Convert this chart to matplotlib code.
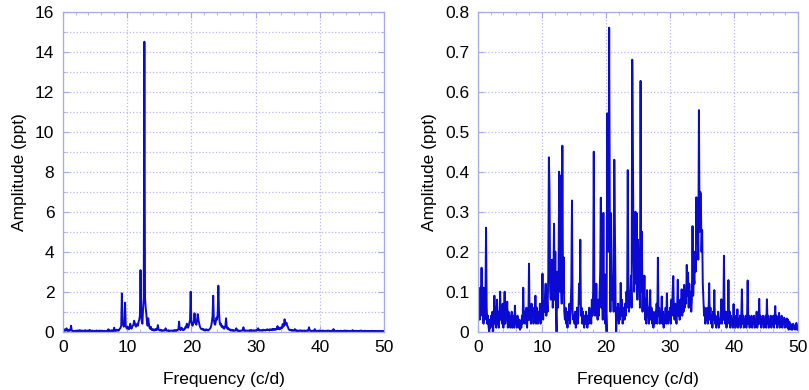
import numpy as np
import matplotlib
matplotlib.use('Agg')
from matplotlib import pyplot as plt
from matplotlib.ticker import MultipleLocator

# frequency grid of both spectra (c/d), step 0.1
freq = np.round(np.arange(0, 501) * 0.1, 1)

# left: original amplitude spectrum (ppt), one row per 1 c/d
amp_left = [
    0.10, 0.05, 0.12, 0.04, 0.10, 0.06, 0.17, 0.05, 0.08, 0.04,
    0.10, 0.05, 0.08, 0.30, 0.06, 0.03, 0.05, 0.02, 0.04, 0.03,
    0.05, 0.02, 0.04, 0.06, 0.02, 0.04, 0.08, 0.03, 0.06, 0.02,
    0.06, 0.03, 0.05, 0.02, 0.04, 0.08, 0.03, 0.05, 0.02, 0.06,
    0.02, 0.05, 0.09, 0.03, 0.05, 0.02, 0.06, 0.02, 0.04, 0.03,
    0.05, 0.02, 0.04, 0.06, 0.02, 0.03, 0.05, 0.02, 0.06, 0.03,
    0.04, 0.02, 0.05, 0.03, 0.02, 0.04, 0.02, 0.03, 0.02, 0.05,
    0.03, 0.12, 0.04, 0.06, 0.03, 0.05, 0.07, 0.02, 0.06, 0.04,
    0.20, 0.05, 0.08, 0.04, 0.10, 0.06, 0.09, 0.05, 0.12, 0.15,
    0.20, 0.30, 1.92, 0.50, 0.35, 0.25, 0.40, 1.45, 0.30, 0.20,
    0.15, 0.25, 0.18, 0.12, 0.20, 0.40, 0.22, 0.15, 0.25, 0.30,
    0.35, 0.55, 0.45, 0.30, 0.25, 0.35, 0.40, 0.30, 0.50, 0.60,
    0.80, 3.08, 0.90, 0.50, 0.40, 1.20, 1.70, 14.5, 1.70, 1.20,
    0.90, 0.50, 0.30, 0.67, 0.40, 0.20, 0.15, 0.25, 0.10, 0.12,
    0.08, 0.12, 0.10, 0.06, 0.12, 0.08, 0.15, 0.10, 0.33, 0.12,
    0.08, 0.06, 0.10, 0.05, 0.07, 0.04, 0.06, 0.05, 0.08, 0.06,
    0.17, 0.08, 0.05, 0.06, 0.04, 0.07, 0.03, 0.05, 0.04, 0.06,
    0.05, 0.03, 0.06, 0.04, 0.08, 0.05, 0.07, 0.04, 0.08, 0.10,
    0.15, 0.50, 0.12, 0.08, 0.15, 0.20, 0.10, 0.08, 0.12, 0.10,
    0.15, 0.25, 0.20, 0.40, 0.25, 0.20, 0.30, 0.45, 0.60, 2.00,
    0.50, 0.35, 0.30, 0.40, 0.60, 0.92, 0.50, 0.40, 0.35, 0.60,
    0.88, 0.60, 0.45, 0.30, 0.20, 0.15, 0.12, 0.15, 0.10, 0.12,
    0.08, 0.10, 0.06, 0.12, 0.08, 0.10, 0.06, 0.08, 0.12, 0.15,
    0.20, 0.30, 0.50, 0.80, 1.80, 0.60, 0.40, 0.35, 0.50, 0.70,
    0.60, 0.90, 2.30, 1.00, 0.50, 0.35, 0.40, 0.25, 0.30, 0.20,
    0.25, 0.15, 0.20, 0.30, 0.67, 0.25, 0.15, 0.20, 0.12, 0.10,
    0.12, 0.08, 0.06, 0.10, 0.05, 0.08, 0.04, 0.06, 0.05, 0.08,
    0.17, 0.05, 0.07, 0.04, 0.06, 0.03, 0.05, 0.04, 0.06, 0.05,
    0.08, 0.22, 0.06, 0.04, 0.07, 0.05, 0.06, 0.04, 0.05, 0.06,
    0.04, 0.07, 0.05, 0.08, 0.04, 0.06, 0.05, 0.07, 0.04, 0.06,
    0.05, 0.08, 0.06, 0.09, 0.17, 0.06, 0.08, 0.05, 0.07, 0.06,
    0.08, 0.05, 0.10, 0.07, 0.09, 0.06, 0.08, 0.10, 0.12, 0.08,
    0.10, 0.07, 0.12, 0.09, 0.11, 0.08, 0.13, 0.10, 0.14, 0.09,
    0.12, 0.10, 0.15, 0.12, 0.28, 0.14, 0.18, 0.12, 0.20, 0.15,
    0.22, 0.18, 0.38, 0.25, 0.30, 0.62, 0.35, 0.40, 0.45, 0.30,
    0.25, 0.15, 0.10, 0.08, 0.10, 0.06, 0.08, 0.05, 0.07, 0.05,
    0.06, 0.13, 0.05, 0.07, 0.04, 0.06, 0.03, 0.05, 0.04, 0.07,
    0.05, 0.04, 0.06, 0.03, 0.05, 0.04, 0.06, 0.03, 0.05, 0.04,
    0.06, 0.04, 0.05, 0.22, 0.06, 0.04, 0.05, 0.03, 0.05, 0.04,
    0.05, 0.03, 0.13, 0.04, 0.05, 0.03, 0.04, 0.05, 0.03, 0.06,
    0.04, 0.05, 0.03, 0.04, 0.06, 0.03, 0.05, 0.04, 0.03, 0.05,
    0.04, 0.03, 0.06, 0.04, 0.05, 0.03, 0.04, 0.03, 0.05, 0.04,
    0.03, 0.13, 0.04, 0.05, 0.03, 0.04, 0.03, 0.05, 0.04, 0.03,
    0.04, 0.03, 0.05, 0.04, 0.03, 0.04, 0.03, 0.05, 0.04, 0.06,
    0.03, 0.04, 0.03, 0.05, 0.04, 0.03, 0.04, 0.03, 0.05, 0.04,
    0.03, 0.08, 0.04, 0.03, 0.04, 0.03, 0.05, 0.04, 0.03, 0.04,
    0.03, 0.04, 0.03, 0.05, 0.06, 0.03, 0.04, 0.03, 0.04, 0.03,
    0.05, 0.03, 0.04, 0.03, 0.04, 0.03, 0.04, 0.03, 0.04, 0.03,
    0.03, 0.04, 0.03, 0.04, 0.03, 0.04, 0.03, 0.04, 0.03, 0.03,
    0.04, 0.03, 0.03, 0.04, 0.03, 0.03, 0.04, 0.03, 0.03, 0.04,
    0.03,
]

# right: residual spectrum after prewhitening (ppt)
amp_right = [
    0.10, 0.04, 0.08, 0.03, 0.11, 0.05, 0.16, 0.04, 0.09, 0.02,
    0.11, 0.03, 0.07, 0.26, 0.06, 0.02, 0.04, 0.01, 0.00, 0.03,
    0.01, 0.04, 0.02, 0.05, 0.00, 0.03, 0.09, 0.02, 0.06, 0.01,
    0.08, 0.02, 0.05, 0.01, 0.04, 0.10, 0.03, 0.06, 0.02, 0.07,
    0.01, 0.05, 0.10, 0.02, 0.06, 0.03, 0.075, 0.01, 0.05, 0.02,
    0.04, 0.01, 0.03, 0.05, 0.01, 0.02, 0.04, 0.01, 0.065, 0.02,
    0.03, 0.01, 0.04, 0.02, 0.01, 0.03, 0.005, 0.02, 0.01, 0.04,
    0.02, 0.11, 0.03, 0.05, 0.02, 0.04, 0.06, 0.01, 0.05, 0.03,
    0.17, 0.03, 0.05, 0.02, 0.07, 0.04, 0.06, 0.02, 0.05, 0.03,
    0.09, 0.02, 0.06, 0.04, 0.02, 0.05, 0.03, 0.07, 0.02, 0.06,
    0.04, 0.145, 0.03, 0.07, 0.05, 0.09, 0.12, 0.04, 0.08, 0.05,
    0.14, 0.436, 0.355, 0.10, 0.08, 0.15, 0.18, 0.06, 0.12, 0.27,
    0.08, 0.20, 0.05, 0.00, 0.15, 0.06, 0.13, 0.40, 0.10, 0.39,
    0.12, 0.07, 0.465, 0.10, 0.186, 0.05, 0.03, 0.06, 0.02, 0.04,
    0.01, 0.05, 0.03, 0.07, 0.02, 0.06, 0.12, 0.328, 0.05, 0.03,
    0.04, 0.02, 0.05, 0.01, 0.03, 0.06, 0.02, 0.04, 0.12, 0.07,
    0.23, 0.04, 0.06, 0.02, 0.05, 0.03, 0.01, 0.04, 0.02, 0.05,
    0.03, 0.01, 0.04, 0.02, 0.06, 0.03, 0.05, 0.02, 0.08, 0.04,
    0.10, 0.45, 0.07, 0.04, 0.06, 0.12, 0.05, 0.03, 0.08, 0.04,
    0.09, 0.15, 0.335, 0.06, 0.11, 0.03, 0.297, 0.05, 0.144, 0.02,
    0.05, 0.00, 0.546, 0.35, 0.20, 0.76, 0.30, 0.05, 0.296, 0.15,
    0.08, 0.12, 0.05, 0.43, 0.25, 0.08, 0.00, 0.06, 0.03, 0.07,
    0.02, 0.05, 0.03, 0.122, 0.04, 0.08, 0.02, 0.05, 0.06, 0.03,
    0.07, 0.04, 0.10, 0.06, 0.404, 0.12, 0.05, 0.10, 0.07, 0.14,
    0.06, 0.68, 0.46, 0.20, 0.10, 0.15, 0.30, 0.12, 0.296, 0.08,
    0.23, 0.12, 0.20, 0.06, 0.627, 0.10, 0.25, 0.05, 0.14, 0.06,
    0.14, 0.03, 0.08, 0.02, 0.104, 0.04, 0.06, 0.02, 0.05, 0.104,
    0.03, 0.06, 0.02, 0.05, 0.01, 0.04, 0.02, 0.05, 0.03, 0.07,
    0.02, 0.185, 0.04, 0.06, 0.02, 0.05, 0.03, 0.088, 0.02, 0.05,
    0.01, 0.04, 0.03, 0.06, 0.02, 0.096, 0.04, 0.02, 0.05, 0.03,
    0.06, 0.02, 0.08, 0.04, 0.10, 0.139, 0.05, 0.03, 0.07, 0.04,
    0.02, 0.06, 0.13, 0.04, 0.07, 0.03, 0.08, 0.05, 0.106, 0.04,
    0.09, 0.05, 0.117, 0.06, 0.10, 0.07, 0.167, 0.09, 0.148, 0.06,
    0.12, 0.07, 0.10, 0.05, 0.08, 0.264, 0.09, 0.14, 0.12, 0.20,
    0.15, 0.336, 0.22, 0.30, 0.18, 0.554, 0.25, 0.35, 0.344, 0.20,
    0.254, 0.12, 0.08, 0.04, 0.06, 0.02, 0.05, 0.03, 0.06, 0.02,
    0.05, 0.121, 0.03, 0.06, 0.02, 0.04, 0.01, 0.05, 0.03, 0.104,
    0.02, 0.04, 0.01, 0.03, 0.02, 0.05, 0.01, 0.03, 0.02, 0.04,
    0.081, 0.02, 0.05, 0.03, 0.19, 0.04, 0.02, 0.05, 0.01, 0.03,
    0.02, 0.129, 0.03, 0.05, 0.01, 0.04, 0.02, 0.03, 0.01, 0.069,
    0.02, 0.04, 0.01, 0.03, 0.02, 0.056, 0.01, 0.03, 0.02, 0.04,
    0.01, 0.03, 0.106, 0.02, 0.04, 0.01, 0.03, 0.02, 0.04, 0.01,
    0.03, 0.128, 0.02, 0.04, 0.01, 0.03, 0.02, 0.04, 0.01, 0.03,
    0.02, 0.04, 0.01, 0.03, 0.02, 0.05, 0.01, 0.03, 0.02, 0.082,
    0.02, 0.04, 0.01, 0.03, 0.02, 0.04, 0.01, 0.03, 0.02, 0.04,
    0.01, 0.081, 0.02, 0.04, 0.01, 0.03, 0.02, 0.04, 0.01, 0.03,
    0.02, 0.04, 0.01, 0.03, 0.064, 0.02, 0.04, 0.01, 0.03, 0.02,
    0.047, 0.01, 0.03, 0.02, 0.04, 0.01, 0.03, 0.02, 0.035, 0.01,
    0.03, 0.02, 0.033, 0.01, 0.03, 0.005, 0.025, 0.01, 0.02, 0.005,
    0.015, 0.005, 0.02, 0.01, 0.015, 0.005, 0.01, 0.022, 0.005, 0.015,
    0.005,
]

line_color = '#0a0ad2'
frame_color = '#a8a8ec'
grid_color = '#b8b8f0'

plt.rcParams['font.family'] = ['Liberation Sans', 'DejaVu Sans']

fig = plt.figure(figsize=(8.09, 3.9), dpi=100)
ax_l = fig.add_axes([0.0775, 0.1495, 0.3975, 0.8205])
ax_r = fig.add_axes([0.5905, 0.1495, 0.3963, 0.8205])


def style_axes(ax, ymax, ymajor, yminor):
    ax.set_xlim(0, 50)
    ax.set_ylim(0, ymax)
    ax.xaxis.set_major_locator(MultipleLocator(10))
    ax.xaxis.set_minor_locator(MultipleLocator(2))
    ax.yaxis.set_major_locator(MultipleLocator(ymajor))
    ax.yaxis.set_minor_locator(MultipleLocator(yminor))
    ax.grid(True, which='major', axis='x', color=grid_color, lw=0.9, ls=':')
    ax.grid(True, which='both', axis='y', color=grid_color, lw=0.9, ls=':')
    for s in ax.spines.values():
        s.set_color(frame_color)
        s.set_linewidth(0.9)
    ax.tick_params(which='both', direction='in', top=True, right=True,
                   color=frame_color, labelsize=12.5, pad=6)
    ax.tick_params(which='major', length=4)
    ax.tick_params(which='minor', length=2.5)
    ax.set_xlabel('Frequency (c/d)', fontsize=12.5, labelpad=12)
    ax.set_ylabel('Amplitude (ppt)', fontsize=12.5, labelpad=6)
    ax.set_axisbelow(True)


ax_l.plot(freq, amp_left, color=line_color, lw=1.4)
style_axes(ax_l, 16, 2, 1)

ax_r.plot(freq, amp_right, color=line_color, lw=1.4)
style_axes(ax_r, 0.8, 0.1, 0.1)
ax_r.yaxis.set_major_formatter(lambda v, p: '0' if v == 0 else f'{v:.1f}')

fig.savefig('out.png', dpi=100)
